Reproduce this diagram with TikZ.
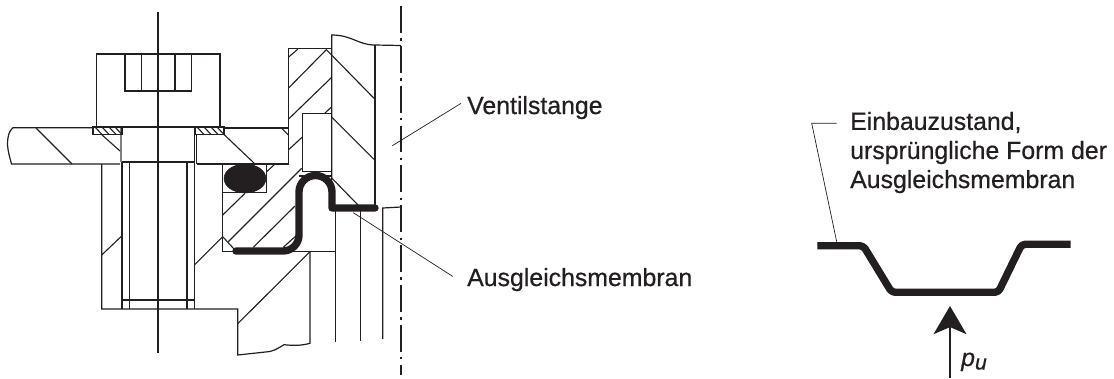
\documentclass[tikz,border=0pt]{standalone}
\usepackage{fontspec}
\setmainfont[FakeBold=0.6]{Liberation Sans}
\usetikzlibrary{arrows.meta,positioning}
\usepackage{xcolor}
\definecolor{inkblack}{RGB}{35,31,32}

\begin{document}
\begin{tikzpicture}[x=0.03cm, y=-0.03cm, color=inkblack,
    part/.style={line width=1.2*0.8536pt},
    hatching/.style={line width=0.95pt},
    leader/.style={line width=0.6pt},
    axis/.style={line width=0.95pt},
    centerline/.style={line width=0.95pt, dash pattern=on 23pt off 4.7pt on 2pt off 4.3pt},
    membrane/.style={line width=6.3pt, line cap=round, line join=round},
    callout/.style={anchor=base west, inner sep=0pt, font=\fontsize{21.2pt}{24.8pt}\selectfont, align=left}]

    \useasboundingbox (0,0) rectangle (1114,378);

    % bolt
    \draw[axis] (158,12) -- (158,353);
    \draw[part] (96.5,127) -- (96.5,54) -- (220,54) -- (220,127);
    \draw[part] (125,54) -- (125,91) -- (191.5,91) -- (191.5,54);
    \draw[part] (141.5,54) -- (141.5,91);
    \draw[part] (175,54) -- (175,91);
    \draw[line width=1.6pt] (122,127) -- (194.3,127);
    \draw[part] (122,162) -- (194.3,162);
    \draw[line width=1.7pt, gray] (121,128) -- (121,162);
    \draw[part] (194.3,127) -- (194.3,309);
    \draw[part] (196.7,134) -- (196.7,164);
    \draw[part] (122,162) -- (122,309);
    \draw[part] (129.3,162) -- (129.3,309);
    \draw[part] (187,162) -- (187,309);
    \draw[part] (122,300) -- (194.3,300);

    % washers
    \draw[part] (93,127) rectangle (122,134.5);
    \draw[part] (195,127) rectangle (224,134.5);
    \draw[hatching] (95,127) -- (102,134.5) (102,127) -- (109,134.5) (109,127) -- (116,134.5) (115,127) -- (122,134.5);
    \draw[hatching] (197,127) -- (204,134.5) (204,127) -- (211,134.5) (211,127) -- (218,134.5) (217,127) -- (224,134.5);

    % plate and lower flange
    \draw[part] (93,127.7) -- (13,127.7) .. controls (9,131) and (7.5,136) .. (7.5,145) .. controls (8,152) and (10,158) .. (11.5,164) -- (120,164);
    \draw[hatching] (36,128) -- (72,164);
    \draw[hatching] (101,134) -- (120,151);
    \draw[part] (101.7,164) -- (101.7,309) -- (237.7,309) -- (237.7,355) -- (270,351.5) .. controls (276,350) and (280,347) .. (284,344.7) .. controls (292,345.5) and (300,346) .. (310,343.3) -- (310,251.7);
    \draw[hatching] (101.7,255) -- (122,235.7);
    \draw[hatching] (194.3,265) -- (222.7,236.7);
    \draw[hatching] (237.7,323.7) -- (310,251.7);

    % housing
    \draw[part] (224,128) -- (288.3,128);
    \draw[line width=1.3pt] (196.7,164) -- (288.3,164) -- (288.3,128);
    \draw[part] (288.3,128) -- (288.3,48.3) -- (331.7,48.3);
    \draw[hatching] (288.3,57.3) -- (297.7,49.3);
    \draw[hatching] (288.3,88.3) -- (326,50);
    \draw[hatching] (288.3,119.3) -- (331.7,77.3);
    \draw[hatching] (324.3,113.7) -- (331.7,106.7);
    \draw[hatching] (288.3,150) -- (302.7,136.7);
    \draw[hatching] (281.7,128.3) -- (288.3,135);
    \draw[hatching] (224,134.5) -- (255,164);
    \draw[part] (302.7,113.7) rectangle (331.7,171.7);
    \draw[part] (299,176) -- (331.7,176);

    % valve rod
    \draw[part] (331.7,180) -- (331.7,35) .. controls (352,35) and (358,45) .. (375,45) -- (401,45.5);
    \draw[part] (375,45) -- (375,207);
    \draw[hatching] (326,49.3) -- (374,98.3);
    \draw[hatching] (332,117.3) -- (374,159.3);
    \draw[hatching] (331.7,178) -- (358,205);
    \draw[centerline] (401,6) -- (401,375);

    % seal ring
    \draw[part] (222.7,164) rectangle (266.7,192.7);
    \draw[fill=inkblack] (245,178.5) ellipse [x radius=21, y radius=14.5];
    \draw[hatching] (266.7,171.7) -- (275,164);
    \draw[line width=1.3pt] (222.7,192.7) -- (222.7,251.7);
    \draw[part] (222.7,251.7) -- (335,251.7);
    \draw[hatching] (222.7,215) -- (245,193.3);
    \draw[hatching] (228.3,241.7) -- (301.7,168.3);
    \draw[hatching] (253.3,247.3) -- (295,206);
    \draw[hatching] (283.3,247.3) -- (295,236.7);
    \draw[hatching] (222.7,236.7) -- (235,250);

    % lower guide lines
    \draw[part] (335.5,210) -- (335.5,341.7);
    \draw[part] (360.7,211) -- (360.7,340.7);
    \draw[part] (382.7,339) -- (382.7,208) -- (401,207);

    % compensating membrane, fitted
    \draw[membrane] (236,251) -- (283,251) arc[start angle=90, end angle=0, radius=16] -- (299,192) arc[start angle=180, end angle=360, radius=16.5] -- (332,208) -- (375,208);

    % callouts left
    \node[callout] (rodlabel) at (467,114) {Ventilstange};
    \node[callout] (membranelabel) at (467,286) {Ausgleichsmembran};
    \coordinate (rodend) at (392.3,145.7);
    \coordinate (membraneend) at (353.3,212.7);
    \draw[leader] (rodlabel.west) ++(-6,-4.2) -- (rodend);
    \draw[leader] (membranelabel.west) ++(-14.3,-3.2) -- (membraneend);

    % shape when fitted
    \node[callout] (statelabel) at (850,188) {Einbauzustand,\\ursprüngliche Form der\\Ausgleichsmembran};
    \draw[membrane, line cap=butt, rounded corners=3pt] (817.3,245.7) -- (863.3,245.7) -- (891.7,292.3) -- (998.3,292.3) -- (1021.7,244.3) -- (1070.7,244.3);
    \coordinate (stateend) at (836.7,241.7);
    \coordinate (statebend) at (811.7,123.3);
    \coordinate (statestart) at (836.7,123.3);
    \draw[leader] (statestart) -- (statebend) -- (stateend);

    % pressure arrow
    \coordinate (pressurebase) at (950,378);
    \coordinate (pressuretip) at (950,306);
    \draw[line width=1.5pt, -{Stealth[length=24pt, width=28pt, inset=6pt]}] (pressurebase) -- (pressuretip);
    \node[callout] (pressurelabel) at (961,366) {\textit{p}\raisebox{-3pt}{\textit{\fontsize{18pt}{20pt}\selectfont u}}};
\end{tikzpicture}
\end{document}
